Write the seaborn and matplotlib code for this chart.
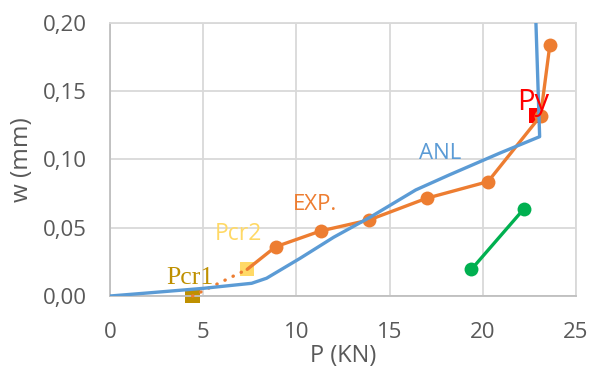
import numpy as np
import pandas as pd
import matplotlib
matplotlib.use("Agg")
import matplotlib.pyplot as plt
from matplotlib.ticker import FuncFormatter
import seaborn as sns

# Experimental load-deflection curve (starts at Pcr2, markers from the 2nd point)
exp_p = [7.36, 8.88, 11.3, 13.89, 16.98, 20.28, 23.1, 23.6]
exp_w = [0.0195, 0.036, 0.0476, 0.0556, 0.0715, 0.0837, 0.1318, 0.184]

# Dotted segment between the two cracking loads
crack_p = [4.43, 7.36]
crack_w = [0.0, 0.0195]

# Analytical curve
anl_p = [0.0, 2.0, 5.0, 7.6, 8.4, 10.2, 12.0, 14.0, 16.4, 18.2, 20.9, 23.05, 22.85]
anl_w = [0.0, 0.0022, 0.0056, 0.0093, 0.013, 0.0276, 0.043, 0.058, 0.0776, 0.0886, 0.1045, 0.1166, 0.20]

# Second test series
green_p = [19.39, 22.22]
green_w = [0.0195, 0.064]

# Characteristic loads
pcr1 = (4.43, 0.0)
pcr2 = (7.36, 0.0195)
py = (22.84, 0.1321)

x_ticks = [0, 5, 10, 15, 20, 25]
y_ticks = [0.00, 0.05, 0.10, 0.15, 0.20]

ORANGE = "#ED7D31"
BLUE = "#5B9BD5"
GREEN = "#00B050"
GOLD_DARK = "#BF9000"
GOLD_LIGHT = "#FFD966"
RED = "#FF0000"
GRID = "#D9D9D9"
TXT = "#595959"

sns.set_theme(style="white")
plt.rcParams["font.family"] = ["Open Sans", "DejaVu Sans"]

fig = plt.figure(figsize=(5.92, 3.67), dpi=100)
ax = fig.add_axes([110 / 592, 1 - 296 / 367, 466 / 592, 273.3 / 367])

# Characteristic-load squares (under the curves)
sns.scatterplot(x=[pcr1[0]], y=[pcr1[1]], marker="s", s=105, color=GOLD_DARK,
                edgecolor="none", ax=ax, zorder=2, clip_on=False)
sns.scatterplot(x=[pcr2[0]], y=[pcr2[1]], marker="s", s=105, color=GOLD_LIGHT,
                edgecolor="none", ax=ax, zorder=2)
sns.scatterplot(x=[py[0]], y=[py[1]], marker="s", s=105, color=RED,
                edgecolor="none", ax=ax, zorder=2)

# Dotted crack segment
sns.lineplot(x=crack_p, y=crack_w, sort=False, estimator=None, ax=ax,
             color=ORANGE, lw=2.4, dashes=False, zorder=3)
crack_line = ax.lines[-1]
crack_line.set_linestyle((0, (0.1, 2.6)))
crack_line.set_dash_capstyle("round")
crack_line.set_clip_on(False)

# Experimental curve
sns.lineplot(x=exp_p, y=exp_w, sort=False, estimator=None, ax=ax,
             color=ORANGE, lw=2.4, marker="o", markersize=10,
             markeredgewidth=0, markevery=list(range(1, len(exp_p))), zorder=3)

# Second series
sns.lineplot(x=green_p, y=green_w, sort=False, estimator=None, ax=ax,
             color=GREEN, lw=2.4, marker="o", markersize=10,
             markeredgewidth=0, zorder=3)

# Analytical curve
sns.lineplot(x=anl_p, y=anl_w, sort=False, estimator=None, ax=ax,
             color=BLUE, lw=2.4, zorder=4)

ax.set_xlim(0, 25)
ax.set_ylim(0, 0.20)
ax.set_xticks(x_ticks)
ax.set_yticks(y_ticks)
ax.yaxis.set_major_formatter(FuncFormatter(lambda v, _: f"{v:.2f}".replace(".", ",")))
ax.xaxis.set_major_formatter(FuncFormatter(lambda v, _: f"{v:g}"))

ax.grid(True, color=GRID, lw=1.3)
ax.set_axisbelow(True)
for side in ["left", "bottom", "top", "right"]:
    ax.spines[side].set_visible(True)
    ax.spines[side].set_color(GRID)
    ax.spines[side].set_linewidth(1.3)
ax.spines["left"].set_color("#BFBFBF")
ax.spines["bottom"].set_color("#BFBFBF")

ax.tick_params(axis="both", length=0, labelsize=16, labelcolor=TXT)
ax.tick_params(axis="x", pad=19)
ax.tick_params(axis="y", pad=17)

ax.set_xlabel("P (KN)", fontsize=17, color=TXT, va="baseline")
ax.set_ylabel("w (mm)", fontsize=17.5, color=TXT, va="center")
ax.xaxis.set_label_coords(0.5, (296 - 362) / 273.3)
ax.yaxis.set_label_coords((22.5 - 110) / 466, 0.5)

# Curve and point labels
ax.text(3.0, (296 - 284) / 1366.5, "Pcr1", family="Liberation Serif", fontsize=18.5,
        color=GOLD_DARK, ha="left", va="baseline", zorder=5)
ax.text(5.6, (296 - 240) / 1366.5, "Pcr2", fontsize=16.5, color=GOLD_LIGHT,
        ha="left", va="baseline", zorder=5)
ax.text(9.8, (296 - 210) / 1366.5, "EXP.", fontsize=16, color=ORANGE,
        ha="left", va="baseline", zorder=5)
ax.text(16.6, (296 - 159.3) / 1366.5, "ANL", fontsize=16, color=BLUE,
        ha="left", va="baseline", zorder=5)
ax.text(21.85, (296 - 110) / 1366.5, "Py", fontsize=21, color=RED,
        ha="left", va="baseline", zorder=5)

fig.savefig("out.png", dpi=100)
